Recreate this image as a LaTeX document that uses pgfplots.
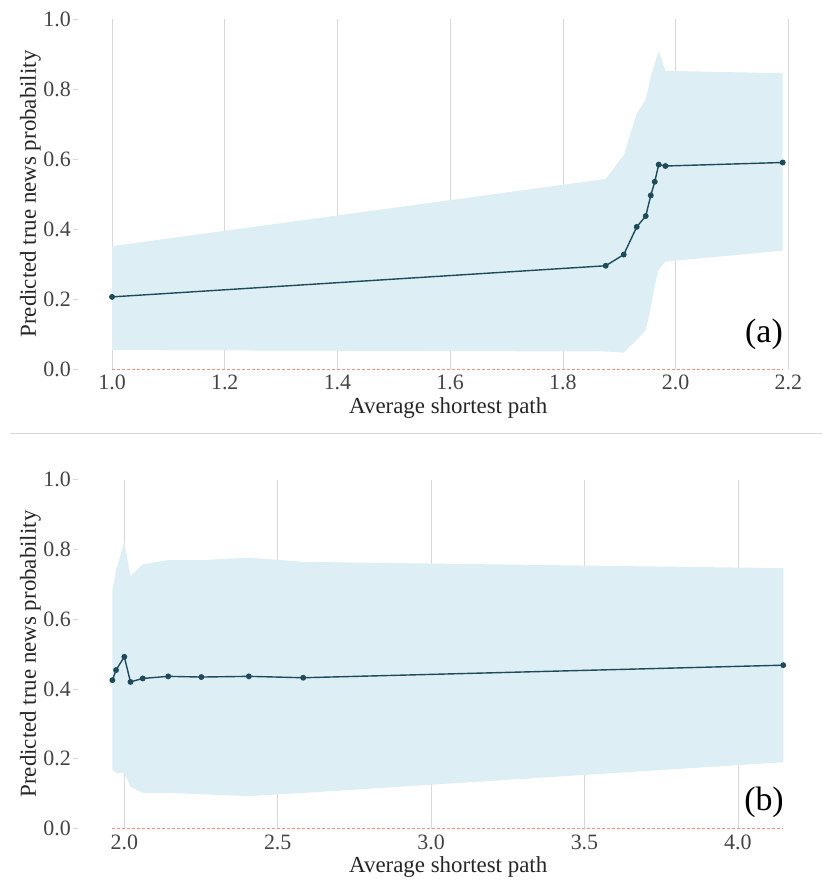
\documentclass[border=0pt]{standalone}
\usepackage{pgfplots}
\pgfplotsset{compat=1.18}
\usepackage{fontspec}
\setmainfont{Liberation Serif}
\definecolor{bandc}{HTML}{DDEEF5}
\definecolor{linec}{HTML}{1E4B5A}
\definecolor{gridc}{HTML}{D8D8D8}
\definecolor{redc}{HTML}{F29088}
\definecolor{tickc}{HTML}{444444}
\pgfplotsset{
  common/.style={
    scale only axis, width=712bp,
    ymin=0, ymax=1, clip=false,
    axis line style={draw=none},
    ytick={0,0.2,...,1.0},
    ytick pos=left, xtick pos=bottom,
    yticklabel style={/pgf/number format/fixed,/pgf/number format/fixed zerofill,/pgf/number format/precision=1, font=\fontsize{22}{26}\selectfont, text=tickc, inner sep=2bp},
    xticklabel style={/pgf/number format/fixed,/pgf/number format/fixed zerofill,/pgf/number format/precision=1, font=\fontsize{22}{26}\selectfont, text=tickc, inner sep=1bp},
    /pgf/number format/assume math mode=true,
    tick align=outside, major tick length=5bp,
    ytick style={draw=gridc, line width=0.8bp},
    xtick style={draw=none},
    xmajorgrids, ymajorgrids=false,
    major grid style={draw=gridc, line width=0.7bp},
    xlabel={Average shortest path},
    ylabel={Predicted true news probability},
    xlabel style={at={(axis description cs:0.52,0)}, anchor=north, yshift=-25bp, font=\fontsize{23}{27}\selectfont, text=black!85},
    ylabel style={at={(axis description cs:-0.067,0.5)}, anchor=center, rotate=0, font=\fontsize{23}{27}\selectfont, text=black!85},
  },
  bandstyle/.style={fill=bandc, draw=none},
  linestyle/.style={color=linec, line width=1.4bp, mark=*, mark size=2.2bp, mark options={fill=linec, draw=linec}},
  zerostyle/.style={color=redc, line width=1bp, dash pattern=on 3bp off 2bp},
}
\begin{document}
\begin{tikzpicture}
\useasboundingbox (0,0) rectangle (822bp,-883bp);
\begin{axis}[common, at={(78bp,-369bp)}, anchor=south west, height=350bp,
  xmin=0.9396, xmax=2.203, xtick={1.0,1.2,...,2.21}]
\addplot[bandstyle] coordinates {
 (1.0,0.351) (1.876,0.543) (1.908,0.611) (1.931,0.730) (1.947,0.769) (1.956,0.835) (1.963,0.873) (1.970,0.909) (1.982,0.852) (2.190,0.845)
 (2.190,0.338) (1.982,0.307) (1.970,0.283) (1.963,0.240) (1.956,0.174) (1.947,0.111) (1.931,0.083) (1.908,0.047) (1.876,0.050) (1.0,0.054)} -- cycle;
\addplot[zerostyle] coordinates {(1.0,0) (2.19,0)};
\addplot[linestyle] coordinates {
 (1.0,0.206) (1.876,0.295) (1.908,0.327) (1.931,0.406) (1.947,0.437) (1.956,0.496) (1.963,0.535) (1.970,0.584) (1.982,0.580) (2.190,0.590)};
\end{axis}
\node at (764bp,-334bp) {\fontsize{34}{40}\selectfont (a)};
\draw[gridc, line width=1bp] (10bp,-433bp) -- (822bp,-433bp);
\begin{axis}[common, at={(78bp,-828.5bp)}, anchor=south west, height=349bp,
  xmin=1.849, xmax=4.170, xtick={2.0,2.5,3.0,3.5,4.0}]
\addplot[bandstyle] coordinates {
 (1.961,0.683) (1.973,0.740) (2.000,0.821) (2.020,0.723) (2.060,0.757) (2.143,0.769) (2.251,0.769) (2.406,0.776) (2.583,0.764) (4.148,0.746)
 (4.148,0.190) (2.583,0.102) (2.406,0.093) (2.251,0.098) (2.143,0.102) (2.060,0.102) (2.020,0.119) (2.000,0.159) (1.973,0.159) (1.961,0.169)} -- cycle;
\addplot[zerostyle] coordinates {(1.961,0) (4.148,0)};
\addplot[linestyle] coordinates {
 (1.961,0.425) (1.973,0.454) (2.000,0.492) (2.020,0.420) (2.060,0.430) (2.143,0.436) (2.251,0.434) (2.406,0.436) (2.583,0.432) (4.148,0.468)};
\end{axis}
\node at (764bp,-802bp) {\fontsize{34}{40}\selectfont (b)};
\end{tikzpicture}
\end{document}
